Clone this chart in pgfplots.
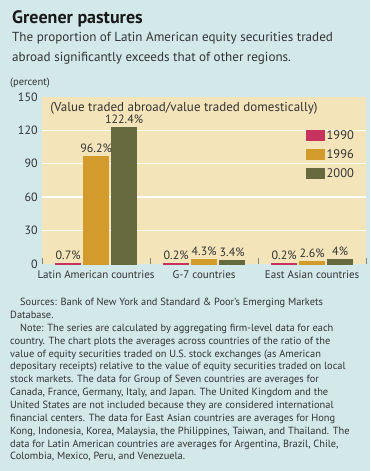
\documentclass[border=0pt]{standalone}
\usepackage{pgfplots}
\pgfplotsset{compat=1.18}
\usepackage{fontspec}
\setmainfont{PT Sans}
\definecolor{bgblue}{HTML}{D3E8E9}
\definecolor{plotbg}{HTML}{F3E4BA}
\definecolor{cA}{HTML}{C7335E}
\definecolor{cB}{HTML}{D39A2C}
\definecolor{cC}{HTML}{676A3E}
\definecolor{txt}{HTML}{333333}
\newcommand{\fn}[2]{\node[anchor=base west, inner sep=0pt, font=\fontsize{10.4}{12}\selectfont, text=txt] at (10,#1) {#2};}
\begin{document}
\begin{tikzpicture}[x=1pt,y=1pt]
\useasboundingbox (0,0) rectangle (370,471);
\fill[bgblue] (0,0) rectangle (370,471);
\node[anchor=base west, inner sep=0pt, font=\bfseries\fontsize{18}{20}\selectfont, text=black!90] at (12,447.5) {Greener pastures};
\node[anchor=base west, inner sep=0pt, font=\fontsize{13.1}{20}\selectfont, text=txt] at (12,429) {The proportion of Latin American equity securities traded};
\node[anchor=base west, inner sep=0pt, font=\fontsize{13.1}{20}\selectfont, text=txt] at (12,409) {abroad significantly exceeds that of other regions.};
\node[anchor=base west, inner sep=0pt, font=\fontsize{10.5}{12}\selectfont, text=txt] at (10,385.5) {(percent)};
\fn{165.3}{\hspace*{10pt}Sources: Bank of New York and Standard \& Poor's Emerging Markets}
\fn{152.45}{Database.}
\fn{139.6}{\hspace*{10pt}Note: The series are calculated by aggregating firm-level data for each}
\fn{126.75}{country. The chart plots the averages across countries of the ratio of the}
\fn{113.9}{value of equity securities traded on U.S. stock exchanges (as American}
\fn{101.05}{depositary receipts) relative to the value of equity securities traded on local}
\fn{88.2}{stock markets. The data for Group of Seven countries are averages for}
\fn{75.35}{Canada, France, Germany, Italy, and Japan. The United Kingdom and the}
\fn{62.5}{United States are not included because they are considered international}
\fn{49.65}{financial centers. The data for East Asian countries are averages for Hong}
\fn{36.8}{Kong, Indonesia, Korea, Malaysia, the Philippines, Taiwan, and Thailand. The}
\fn{23.95}{data for Latin American countries are averages for Argentina, Brazil, Chile,}
\fn{11.1}{Colombia, Mexico, Peru, and Venezuela.}
\begin{axis}[
  at={(89,186)}, anchor=origin, scale only axis,
  width=324pt, height=167pt,
  xmin=-0.5, xmax=2.5, ymin=0, ymax=150,
  axis background/.style={fill=plotbg},
  axis line style={draw=none},
  /pgf/number format/assume math mode=true,
  ytick={0,30,...,150},
  xtick={0,1,2},
  xticklabels={Latin American countries, G-7 countries, East Asian countries},
  major tick length=0pt,
  xtick pos=bottom, ytick pos=left,
  tick label style={font=\fontsize{12}{12}\selectfont, text=txt},
  xticklabel style={font=\fontsize{11}{11}\selectfont, yshift=-3.5pt},
  yticklabel style={xshift=-1pt},
  extra y ticks={30,60,90,120},
  extra y tick labels={},
  extra y tick style={grid=major, major grid style={white, line width=1.3pt}},
  extra x ticks={-0.5,0.5,1.5,2.5},
  extra x tick labels={},
  extra x tick style={grid=none, major tick length=6pt, tick align=inside, major tick style={gray, line width=0.8pt}},
  ybar=2.5pt, bar width=25.5pt,
  nodes near coords={\pgfmathprintnumber{\pgfplotspointmeta}\%},
  every node near coord/.append style={font=\fontsize{12}{12}\selectfont, text=txt},
  legend style={draw=none, fill=none, at={(0.815,0.81)}, anchor=north west,
    font=\fontsize{12.5}{12.5}\selectfont, text=txt, row sep=5.5pt, inner sep=0pt,
    cells={anchor=west}, nodes={inner sep=1.5pt}},
  legend image code/.code={\fill[#1] (0pt,-5pt) rectangle (18pt,5pt);},
  clip=false,
]
\addplot[fill=cA, draw=cA, line width=0.8pt] coordinates {(0,0.7) (1,0.2) (2,0.2)};
\addplot[fill=cB, draw=cB, line width=0.8pt] coordinates {(0,96.2) (1,4.3) (2,2.6)};
\addplot[fill=cC, draw=cC, line width=0.8pt] coordinates {(0,122.4) (1,3.4) (2,4)};
\legend{1990,1996,2000}
\node[anchor=west, inner sep=0pt, font=\fontsize{13}{13}\selectfont, text=txt] at (rel axis cs:0.025,0.934) {(Value traded abroad/value traded domestically)};
\end{axis}
\end{tikzpicture}
\end{document}
